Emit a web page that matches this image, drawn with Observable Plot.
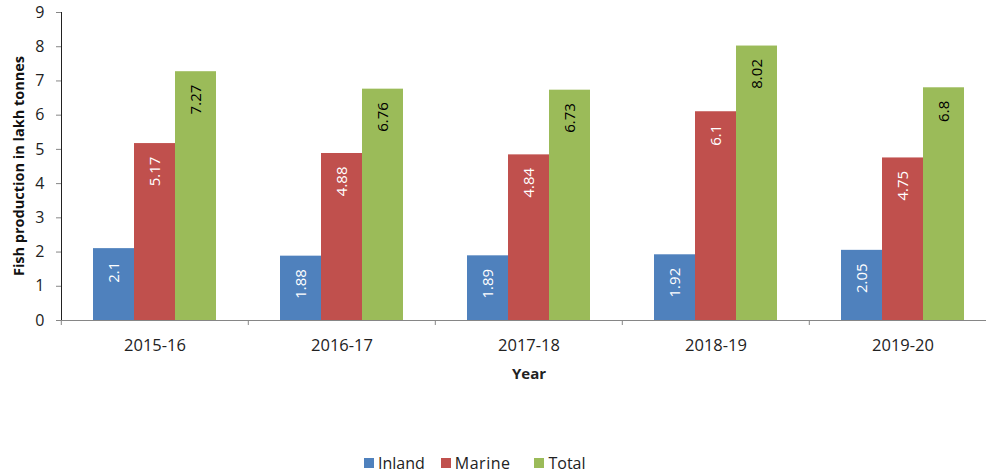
<!DOCTYPE html>
<html>
<head>
<meta charset="utf-8">
<script src="https://cdn.jsdelivr.net/npm/d3@7"></script>
<script src="https://cdn.jsdelivr.net/npm/@observablehq/plot@0.6"></script>
<style>
  html, body { margin: 0; padding: 0; background: #fff; overflow: hidden; }
  body { position: relative; width: 986px; height: 473px; font-family: "Open Sans", sans-serif; }
  #chart { position: absolute; left: 0; top: 0; }
  #chart svg { overflow: visible; max-width: none !important; }
  g[aria-label="fx-axis label"] text { font-weight: bold; font-size: 15px; }
  g[aria-label="y-axis tick"] path, g[aria-label="fx-axis tick"] path { stroke: #868686; }
  #ylabel { position: absolute; left: 18px; top: 166px; transform: translate(-50%, -50%) rotate(-90deg); white-space: nowrap; font-weight: bold; font-size: 14.5px; color: #111; }
  #legend { position: absolute; left: 364px; top: 452px; display: flex; align-items: center; font-size: 16px; color: #222; font-family: "Open Sans", sans-serif; }
  #legend .item { display: flex; align-items: center; }
  #legend .sw { width: 10px; height: 10px; margin-right: 4px; }
  #legend .lab2 { letter-spacing: 0.5px; }
</style>
</head>
<body>
<div id="chart"></div>
<div id="ylabel">Fish production in lakh tonnes</div>
<div id="legend"></div>
<script>
const years = ["2015-16", "2016-17", "2017-18", "2018-19", "2019-20"];
const series = ["Inland", "Marine", "Total"];
const inland = [2.1, 1.88, 1.89, 1.92, 2.05];
const marine = [5.17, 4.88, 4.84, 6.1, 4.75];
const total = [7.27, 6.76, 6.73, 8.02, 6.8];
const colors = ["#4F81BD", "#C0504D", "#9BBB59"];
const yTicks = [0, 1, 2, 3, 4, 5, 6, 7, 8, 9];

const valuesBySeries = { Inland: inland, Marine: marine, Total: total };
const data = [];
years.forEach((yr, i) => series.forEach(s => data.push({ year: yr, series: s, value: valuesBySeries[s][i] })));

const width = 997, marginLeft = 60, marginRight = 0;
const step = (width - marginLeft - marginRight) / years.length;

const chart = Plot.plot({
  width,
  height: 395,
  marginLeft,
  marginRight,
  marginTop: 12,
  marginBottom: 75,
  style: { fontFamily: "Open Sans, sans-serif", fontSize: "16px", color: "#222", background: "white" },
  fx: { domain: years, padding: 0 },
  x: { domain: series, paddingInner: 0, paddingOuter: 0.749, axis: null },
  y: {
    domain: [0, 9], ticks: yTicks, tickSize: 5, tickPadding: 12, line: true, label: null
  },
  color: { domain: series, range: colors },
  marks: [
    Plot.barY(data, { fx: "year", x: "series", y: "value", fill: "series" }),
    Plot.ruleY([0], { stroke: "#868686" }),
    Plot.text(data.filter(d => d.series !== "Total"), {
      fx: "year", x: "series", y: "value", text: d => String(d.value),
      rotate: -90, textAnchor: "end", lineAnchor: "middle", dy: 13, fill: "white", fontSize: 15
    }),
    Plot.text(data.filter(d => d.series === "Total"), {
      fx: "year", x: "series", y: "value", text: d => String(d.value),
      rotate: -90, textAnchor: "end", lineAnchor: "middle", dy: 13, fill: "black", fontSize: 15
    }),
    Plot.axisFx({ anchor: "bottom", tickSize: 5, dx: -step / 2, tickFormat: () => "", label: null }),
    Plot.axisFx({
      anchor: "bottom", tickSize: 0, tickPadding: 19, fontSize: 16.5,
      label: "Year", labelAnchor: "center", labelOffset: 58
    })
  ]
});
document.getElementById("chart").appendChild(chart);

const legend = document.getElementById("legend");
series.forEach((s, i) => {
  const item = document.createElement("div");
  item.className = "item";
  item.style.marginRight = i === 0 ? "16px" : "24px";
  const sw = document.createElement("span");
  sw.className = "sw";
  sw.style.background = colors[i];
  const lab = document.createElement("span");
  lab.textContent = s;
  if (i === 1) lab.className = "lab2";
  item.appendChild(sw);
  item.appendChild(lab);
  legend.appendChild(item);
});
</script>
</body>
</html>
